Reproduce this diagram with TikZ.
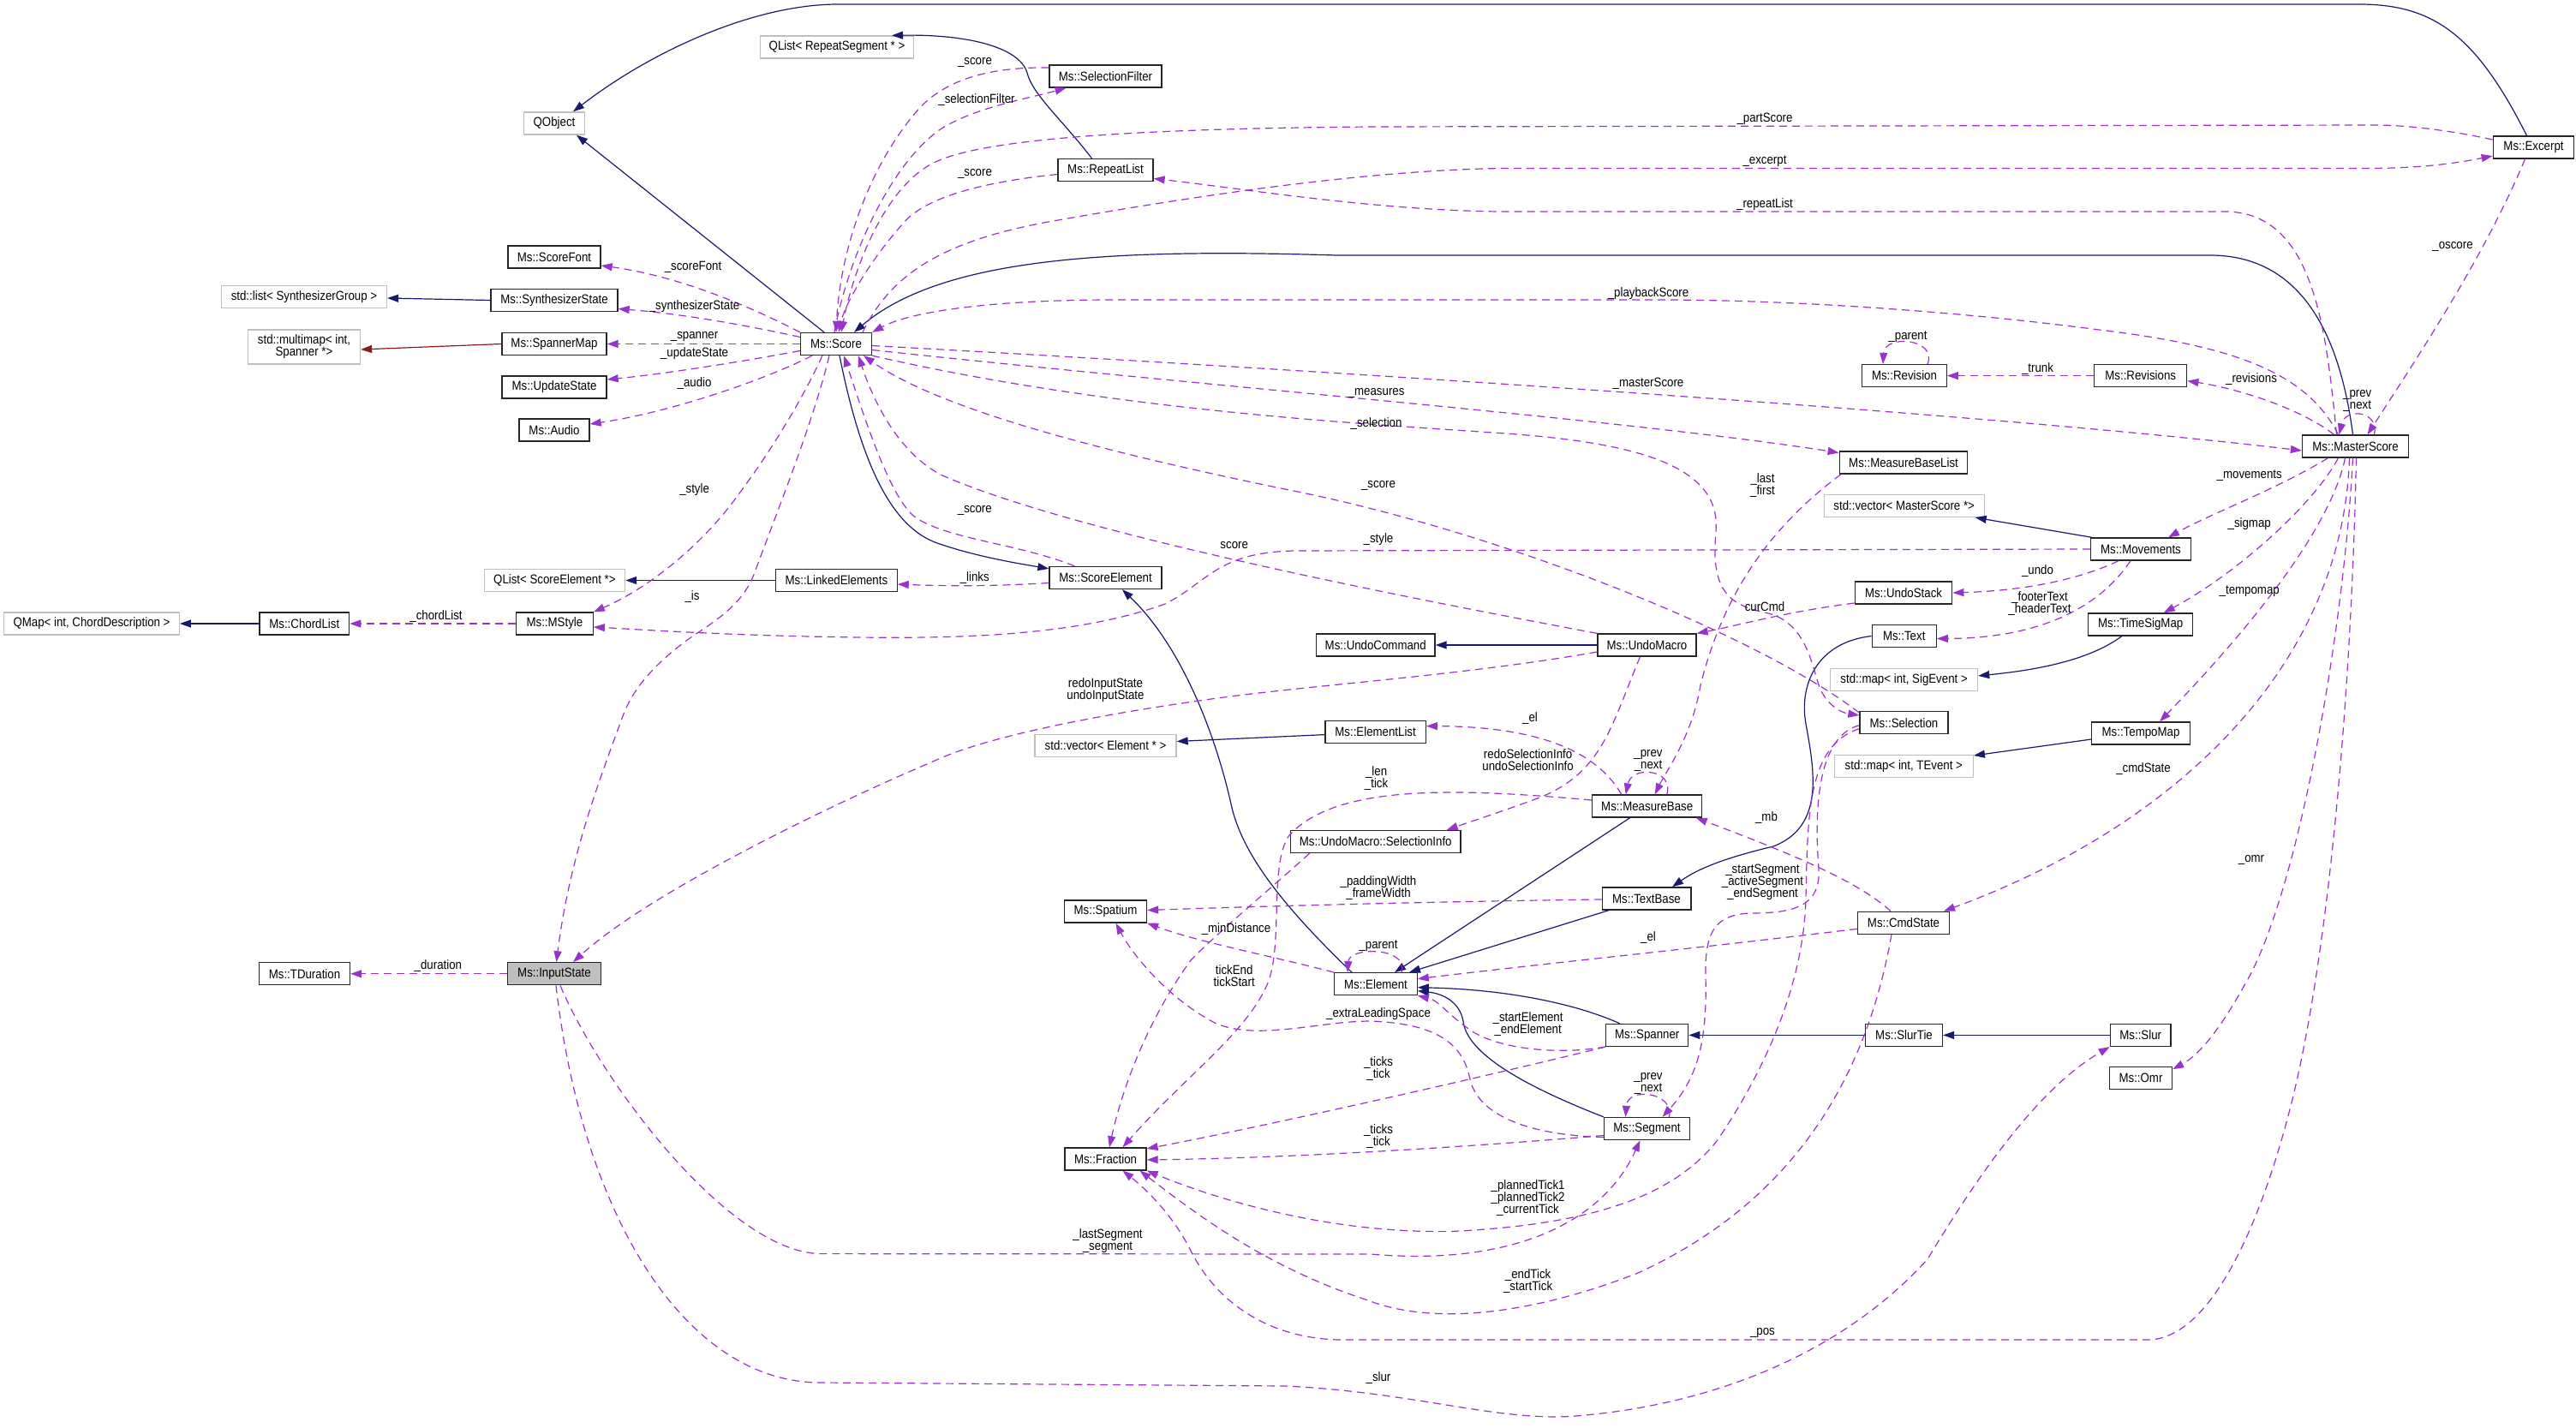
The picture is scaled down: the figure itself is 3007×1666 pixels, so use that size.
\documentclass[tikz,border=0pt]{standalone}
\usepackage{fontspec}
\setmainfont{Liberation Sans}[FakeStretch=0.885]
\usetikzlibrary{arrows.meta}
\definecolor{navy}{HTML}{191970}
\definecolor{orch}{HTML}{9A32CD}
\definecolor{fire}{HTML}{8B1A1A}
\definecolor{extgray}{HTML}{BFBFBF}
\newcommand\dgfont{\fontsize{15}{14}\selectfont}
\begin{document}
\begin{tikzpicture}[x=1pt,y=-1pt,
  cls/.style={draw=black!85, line width=1.3pt, fill=white, minimum height=26pt, inner sep=0pt, font=\dgfont, align=center},
  ext/.style={draw=extgray},
  focus/.style={fill=extgray},
  lab/.style={inner sep=0pt, font=\dgfont, align=center},
  inh/.style={draw=navy, line width=1.2pt, -{Triangle[length=13pt,width=9pt]}},
  tmpl/.style={draw=fire, line width=1.2pt, -{Triangle[length=13pt,width=9pt]}},
  use/.style={draw=orch, line width=1.2pt, dash pattern=on 9pt off 6pt, -{Triangle[length=13pt,width=9pt]}}]
\useasboundingbox[fill=white] (0,0) rectangle (3007,1666);

% ---------- nodes ----------
\node[cls,ext,minimum width=71pt] (qobject) at (647,144) {QObject};
\node[cls,ext,minimum width=179pt] (qlistrs) at (977,55) {QList< RepeatSegment * >};
\node[cls,minimum width=131pt] (selfilter) at (1290.5,89) {Ms::SelectionFilter};
\node[cls,minimum width=111pt] (repeatlist) at (1290.5,198.5) {Ms::RepeatList};
\node[cls,minimum width=108pt] (scorefont) at (647,300) {Ms::ScoreFont};
\node[cls,ext,minimum width=193pt] (stdlist) at (355,346.5) {std::list< SynthesizerGroup >};
\node[cls,minimum width=148pt] (synth) at (647,350.5) {Ms::SynthesizerState};
\node[cls,ext,minimum width=131pt,minimum height=40pt] (multimap) at (355,405) {std::multimap< int,\\Spanner *>};
\node[cls,minimum width=122pt] (spannermap) at (647,401.5) {Ms::SpannerMap};
\node[cls,minimum width=122pt] (updatestate) at (647,452) {Ms::UpdateState};
\node[cls,minimum width=82pt] (audio) at (647,502) {Ms::Audio};
\node[cls,minimum width=83pt] (score) at (976,401.5) {Ms::Score};
\node[cls,minimum width=94.5pt] (excerpt) at (2957.5,172) {Ms::Excerpt};
\node[cls,minimum width=124pt] (master) at (2749.5,521) {Ms::MasterScore};
\node[cls,minimum width=108pt] (revisions) at (2498.7,438.6) {Ms::Revisions};
\node[cls,minimum width=98.5pt] (revision) at (2223,438.6) {Ms::Revision};
\node[cls,minimum width=149.5pt] (mblist) at (2222,540) {Ms::MeasureBaseList};
\node[cls,ext,minimum width=187pt] (vecms) at (2222.7,590.5) {std::vector< MasterScore *>};
\node[cls,minimum width=117pt] (movements) at (2499,641) {Ms::Movements};
\node[cls,minimum width=113.5pt] (undostack) at (2222,692) {Ms::UndoStack};
\node[cls,minimum width=75pt] (text) at (2222.7,742.5) {Ms::Text};
\node[cls,minimum width=122pt] (timesig) at (2498.7,729) {Ms::TimeSigMap};
\node[cls,ext,minimum width=172pt] (mapsig) at (2222.6,793.4) {std::map< int, SigEvent >};
\node[cls,minimum width=103pt] (selection) at (2222.5,843.7) {Ms::Selection};
\node[cls,minimum width=114.4pt] (tempomap) at (2499,856) {Ms::TempoMap};
\node[cls,ext,minimum width=162pt] (mapte) at (2222.3,894.5) {std::map< int, TEvent >};
\node[cls,minimum width=106.7pt] (cmdstate) at (2222,1077.3) {Ms::CmdState};
\node[cls,minimum width=138.6pt] (undocmd) at (1605.7,753) {Ms::UndoCommand};
\node[cls,minimum width=115pt] (undomacro) at (1922.5,753) {Ms::UndoMacro};
\node[cls,minimum width=117.3pt] (elemlist) at (1605.6,854.6) {Ms::ElementList};
\node[cls,ext,minimum width=165pt] (vecel) at (1290.5,870.5) {std::vector< Element * >};
\node[cls,minimum width=128pt] (measurebase) at (1922.7,941) {Ms::MeasureBase};
\node[cls,minimum width=198.7pt] (selinfo) at (1605.7,982.5) {Ms::UndoMacro::SelectionInfo};
\node[cls,minimum width=103.7pt] (textbase) at (1922,1049) {Ms::TextBase};
\node[cls,minimum width=96pt] (spatium) at (1290.5,1064) {Ms::Spatium};
\node[cls,minimum width=96.4pt] (element) at (1606,1148.7) {Ms::Element};
\node[cls,minimum width=96pt] (spanner) at (1922.7,1208.4) {Ms::Spanner};
\node[cls,minimum width=90pt] (slurtie) at (2222.5,1208.4) {Ms::SlurTie};
\node[cls,minimum width=70.8pt] (slur) at (2498.7,1208.4) {Ms::Slur};
\node[cls,minimum width=73pt] (omr) at (2499,1258.2) {Ms::Omr};
\node[cls,minimum width=100pt] (segment) at (1922.5,1317.5) {Ms::Segment};
\node[cls,minimum width=95pt] (fraction) at (1290.5,1352.9) {Ms::Fraction};
\node[cls,focus,minimum width=108.6pt] (inputstate) at (647,1136.8) {Ms::InputState};
\node[cls,minimum width=106pt] (tduration) at (355.5,1136.8) {Ms::TDuration};
\node[cls,minimum width=104.7pt] (chordlist) at (355.3,728) {Ms::ChordList};
\node[cls,ext,minimum width=204.6pt] (qmap) at (107,728) {QMap< int, ChordDescription >};
\node[cls,minimum width=89.7pt] (mstyle) at (647.4,728) {Ms::MStyle};
\node[cls,ext,minimum width=164.3pt] (qlistse) at (647.4,677.5) {QList< ScoreElement *>};
\node[cls,minimum width=141.5pt] (linked) at (976.4,677.5) {Ms::LinkedElements};
\node[cls,minimum width=131pt] (scoreel) at (1290.5,674.5) {Ms::ScoreElement};

% ---------- inheritance ----------
\draw[inh] ([xshift=-14pt]score.north) -- ([xshift=26pt]qobject.south);
\draw[inh] ([xshift=-8pt]excerpt.north) .. controls (2890,40) and (2840,5) .. (2754,5) -- (978,5) .. controls (880,5) and (760,60) .. ([xshift=22pt]qobject.north);
\draw[inh] ([xshift=-16pt]repeatlist.north) .. controls (1240,140) and (1205,110) .. (1199,85) .. controls (1190,55) and (1130,40) .. ([xshift=64pt]qlistrs.north);
\draw[inh] ([xshift=-3pt]master.north) .. controls (2730,380) and (2680,298) .. (2580,298) -- (1560,298) .. controls (1300,290) and (1100,300) .. ([xshift=21pt]score.north);
\draw[inh] (undomacro.west) -- (undocmd.east);
\draw[inh] ([xshift=4pt]score.south) .. controls (1005,540) and (1040,615) .. (1094,634) .. controls (1140,650) and (1190,658) .. ([yshift=-3pt]scoreel.north west);
\draw[inh] (linked.west) -- (qlistse.east);
\draw[inh] (chordlist.west) -- (qmap.east);
\draw[inh] (synth.west) -- ([yshift=-1.5pt]stdlist.east);
\draw[tmpl] (spannermap.west) -- ([yshift=-3pt]multimap.east);
\draw[inh] ([yshift=-3pt]elemlist.west) -- ([yshift=5pt]vecel.east);
\draw[inh] ([xshift=-28pt]element.north) .. controls (1500,1060) and (1452,1000) .. (1438,943) .. controls (1420,860) and (1380,755) .. ([xshift=19.5pt]scoreel.south);
\draw[inh] ([xshift=-20pt]measurebase.south) -- ([xshift=22pt]element.north);
\draw[inh] ([xshift=-44pt]textbase.south) -- ([xshift=39pt]element.north);
\draw[inh] (text.west) .. controls (2120,750) and (2100,800) .. (2108,845) .. controls (2118,900) and (2130,965) .. (2070,988) .. controls (2020,1000) and (1985,1012) .. ([xshift=30pt]textbase.north);
\draw[inh] ([xshift=-32pt]spanner.north) .. controls (1840,1172) and (1760,1155) .. ([yshift=-4pt]element.east);
\draw[inh] (segment.north west) .. controls (1780,1268) and (1712,1230) .. (1708,1192) .. controls (1704,1170) and (1685,1160) .. ([yshift=-8pt]element.east);
\draw[inh] (slurtie.west) -- (spanner.east);
\draw[inh] (slur.west) -- (slurtie.east);
\draw[inh] ([xshift=-57pt]movements.north) -- ([xshift=83pt]vecms.south);
\draw[inh] ([xshift=-22pt]timesig.south) .. controls (2440,770) and (2380,782) .. ([yshift=4.5pt]mapsig.east);
\draw[inh] ([yshift=-7pt]tempomap.west) -- ([yshift=12.5pt]mapte.east);

% ---------- usage ----------
\draw[use] (score.north west) .. controls (870,355) and (790,322) .. ([yshift=-10pt]scorefont.east);
\draw[use] ([yshift=8pt]score.west) .. controls (850,375) and (780,365) .. ([yshift=-10pt]synth.east);
\draw[use] (score.west) -- (spannermap.east);
\draw[use] ([yshift=-8pt]score.west) .. controls (850,425) and (770,437) .. ([yshift=9pt]updatestate.east);
\draw[use] ([xshift=-28pt]score.south) .. controls (900,440) and (790,480) .. ([yshift=7pt]audio.east);
\draw[use] ([xshift=-16pt]score.south) .. controls (930,480) and (890,540) .. (860,580) .. controls (820,635) and (760,685) .. (mstyle.north east);
\draw[use] ([xshift=-8pt]score.south) .. controls (950,490) and (910,590) .. (881,668) .. controls (868,705) and (835,725) .. (808,743) .. controls (770,770) and (740,800) .. (727,836) .. controls (700,910) and (665,1000) .. ([xshift=2.5pt]inputstate.north);
\draw[use] ([yshift=-8pt]undomacro.west) .. controls (1700,790) and (1520,800) .. (1400,818) .. controls (1280,835) and (1150,860) .. (1089,889) .. controls (980,935) and (760,1040) .. ([xshift=22pt]inputstate.north);
\draw[use] ([yshift=-6pt]scoreel.west) .. controls (1150,685) and (1100,684) .. ([yshift=-4.5pt]linked.east);
\draw[use] ([xshift=-36pt]scoreel.north) .. controls (1190,635) and (1110,630) .. (1070,605) .. controls (1040,585) and (1010,490) .. ([xshift=9pt]score.south);
\draw[use] (undomacro.north west) .. controls (1600,690) and (1250,620) .. (1100,555) .. controls (1050,530) and (1020,470) .. ([xshift=26pt]score.south);
\draw[use] ([yshift=-2pt]selection.north west) .. controls (2050,740) and (1750,620) .. (1500,571) .. controls (1300,530) and (1100,480) .. ([xshift=32pt]score.south);
\draw[use] (score.south east) .. controls (1300,480) and (1600,495) .. (1742,505) .. controls (1900,515) and (2010,540) .. (2003,620) .. controls (1998,680) and (2010,705) .. (2060,715) .. controls (2110,725) and (2115,780) .. (2125,805) .. controls (2135,825) and (2150,832) .. ([yshift=-5pt]selection.north west);
\draw[use] ([yshift=-2pt]score.east) .. controls (1500,430) and (2300,480) .. ([yshift=-5pt]master.west);
\draw[use] ([yshift=-7pt]score.east) .. controls (1400,450) and (1900,490) .. ([yshift=11.5pt]mblist.west);
\draw[use] ([xshift=-20pt]master.north) .. controls (2695,440) and (2620,405) .. (2450,385) .. controls (2300,365) and (2100,350) .. (1936,350) -- (1300,350) .. controls (1150,350) and (1060,365) .. (score.north east);
\draw[use] ([xshift=-22pt]master.north) .. controls (2715,380) and (2700,250) .. (2600,247) -- (1750,247) .. controls (1600,245) and (1450,220) .. ([yshift=-10pt]repeatlist.east);
\draw[use] ([yshift=9pt]excerpt.west) .. controls (2850,150) and (2800,146) .. (2773,146) -- (1600,148) .. controls (1350,150) and (1150,160) .. (1090,190) .. controls (1030,220) and (995,320) .. ([xshift=6pt]score.north);
\draw[use] ([xshift=31pt]score.north) .. controls (1040,320) and (1100,280) .. (1235,257) .. controls (1400,228) and (1600,198) .. (1760,196.4) -- (2773,196.4) .. controls (2830,196) and (2870,190) .. ([yshift=-10pt]excerpt.west);
\draw[use] ([yshift=-5pt]repeatlist.west) .. controls (1150,212) and (1080,230) .. (1055,260) .. controls (1010,310) and (985,360) .. ([xshift=3pt]score.north);
\draw[use] ([yshift=10pt]selfilter.west) .. controls (1150,78) and (1100,95) .. (1070,130) .. controls (1010,200) and (980,300) .. (score.north);
\draw[use] ([xshift=-2pt]score.north) .. controls (990,300) and (1040,190) .. (1099,150) .. controls (1140,125) and (1200,115) .. ([xshift=-46pt]selfilter.south);
\draw[use] ([xshift=-10pt]excerpt.south) .. controls (2900,300) and (2820,420) .. ([xshift=14pt]master.north);
\draw[use] ([xshift=-25pt]master.north) .. controls (2690,480) and (2620,455) .. ([yshift=-6pt]revisions.east);
\draw[use] ([xshift=22pt]master.north) .. controls (2778,480) and (2738,475) .. ([xshift=-19pt]master.north);
\draw[use] ([xshift=-32pt]master.south) .. controls (2660,570) and (2580,600) .. ([xshift=32pt]movements.north);
\draw[use] ([xshift=-20pt]master.south) .. controls (2700,590) and (2610,670) .. ([xshift=27pt]timesig.north);
\draw[use] ([xshift=-12pt]master.south) .. controls (2720,620) and (2620,740) .. ([xshift=22pt]tempomap.north);
\draw[use] ([xshift=-7pt]master.south) .. controls (2735,770) and (2550,960) .. ([xshift=47pt]cmdstate.north);
\draw[use] ([xshift=-3pt]master.south) .. controls (2735,750) and (2680,1050) .. (2620,1150) .. controls (2595,1195) and (2570,1230) .. ([yshift=10pt]omr.east);
\draw[use] ([xshift=1pt]master.south) .. controls (2745,800) and (2720,1100) .. (2677,1279) .. controls (2640,1430) and (2580,1564) .. (2507,1564) -- (1563,1564) .. controls (1480,1562) and (1420,1520) .. (1390,1460) .. controls (1370,1420) and (1340,1390) .. ([xshift=20pt]fraction.south);
\draw[use] ([xshift=2pt]inputstate.south) .. controls (680,1420) and (800,1614) .. (958,1614) -- (1500,1618) .. controls (1650,1625) and (1750,1660) .. (1839,1653) .. controls (2000,1640) and (2150,1580) .. (2250,1470) .. controls (2310,1370) and (2380,1270) .. (slur.south west);
\draw[use] ([xshift=7pt]inputstate.south) .. controls (700,1260) and (850,1462) .. (958,1463.6) -- (1600,1464) .. controls (1760,1478) and (1870,1430) .. ([xshift=-8pt]segment.south);
\draw[use] (mstyle.west) -- (chordlist.east);
\draw[use] (inputstate.west) -- (tduration.east);
\draw[use] ([xshift=-73pt]mblist.south) .. controls (2060,620) and (2010,700) .. (1985,800) .. controls (1975,860) and (1945,900) .. ([xshift=9pt]measurebase.north);
\draw[use] ([xshift=23pt]measurebase.north) .. controls (1955,898) and (1905,893) .. ([xshift=-25pt]measurebase.north);
\draw[use] ([xshift=-30pt]measurebase.north) .. controls (1860,870) and (1780,848) .. ([yshift=7pt]elemlist.east);
\draw[use] ([xshift=-8pt]undomacro.south) .. controls (1880,850) and (1870,900) .. (1800,930) .. controls (1760,945) and (1720,958) .. ([xshift=83pt]selinfo.north);
\draw[use] ([yshift=-12pt]undostack.west) .. controls (2080,715) and (2030,730) .. (undomacro.north east);
\draw[use] ([xshift=-26pt]movements.south) .. controls (2420,680) and (2350,690) .. (undostack.east);
\draw[use] ([xshift=-12pt]movements.south) .. controls (2450,710) and (2380,745) .. ([yshift=-3pt]text.east);
\draw[use] (movements.west) -- (1510,643) .. controls (1420,645) and (1410,680) .. (1360,705) .. controls (1250,745) and (1100,745) .. (1000,744) .. controls (850,742) and (750,735) .. ([yshift=-4pt]mstyle.east);
\draw[use] (revisions.west) -- (revision.east);
\draw[use] ([xshift=27pt]revision.north) .. controls (2262,395) and (2200,390) .. ([xshift=-25pt]revision.north);
\draw[use] ([xshift=30pt]element.north) .. controls (1645,1105) and (1575,1105) .. ([xshift=-33pt]element.north);
\draw[use] ([yshift=-7pt]cmdstate.west) .. controls (2000,1105) and (1800,1125) .. ([yshift=6pt]element.east);
\draw[use] (spanner.south west) .. controls (1830,1230) and (1760,1228) .. (1720,1205) .. controls (1690,1185) and (1680,1168) .. (element.south east);
\draw[use] ([xshift=-15pt]cmdstate.north) .. controls (2170,1030) and (2100,1000) .. ([xshift=57pt]measurebase.south);
\draw[use] ([yshift=-3pt]selection.west) .. controls (2120,860) and (2118,950) .. (2123,1014) .. controls (2126,1060) and (2090,1066) .. (2043,1066) .. controls (2000,1068) and (1990,1090) .. (1991,1140) .. controls (1993,1220) and (1980,1260) .. ([xshift=18pt]segment.north);
\draw[use] ([yshift=-7pt]selection.west) .. controls (2110,870) and (2110,950) .. (2108,1050) .. controls (2105,1150) and (2060,1250) .. (2004,1332) .. controls (1950,1400) and (1850,1430) .. (1694,1437.5) .. controls (1550,1440) and (1420,1400) .. (fraction.south east);
\draw[use] ([xshift=-14pt]cmdstate.south) .. controls (2180,1250) and (2100,1400) .. (1912,1486) .. controls (1800,1530) and (1680,1550) .. (1597,1518) .. controls (1480,1480) and (1400,1420) .. ([xshift=40pt]fraction.south);
\draw[use] ([yshift=-10pt]segment.west) .. controls (1780,1325) and (1725,1300) .. (1716,1260) .. controls (1708,1220) and (1680,1195) .. (1600,1192) .. controls (1540,1192) and (1470,1215) .. (1420,1195) .. controls (1370,1170) and (1325,1120) .. ([xshift=12pt]spatium.south);
\draw[use] (spanner.south west) .. controls (1700,1265) and (1450,1320) .. ([yshift=12pt]fraction.east);
\draw[use] ([yshift=-8pt]segment.west) .. controls (1700,1340) and (1500,1352) .. ([yshift=-1pt]fraction.east);
\draw[use] ([xshift=-77pt]selinfo.south) .. controls (1480,1040) and (1420,1090) .. (1390,1121) .. controls (1340,1190) and (1310,1270) .. ([xshift=4.5pt]fraction.north);
\draw[use] ([yshift=7pt]measurebase.west) .. controls (1700,920) and (1560,915) .. (1505,975) .. controls (1480,1010) and (1500,1110) .. (1477,1154) .. controls (1450,1210) and (1380,1260) .. ([xshift=20pt]fraction.north);
\draw[use] ([yshift=-1pt]textbase.west) .. controls (1700,1052) and (1500,1057) .. ([yshift=1.5pt]spatium.east);
\draw[use] (element.north west) .. controls (1480,1115) and (1400,1100) .. (spatium.south east);
\draw[use] ([xshift=26pt]segment.north) .. controls (1955,1275) and (1900,1268) .. ([xshift=-25pt]segment.north);

% ---------- labels ----------
\node[lab] (l1) at (809,312) {\_scoreFont};
\node[lab] (l2) at (810.6,358) {\_synthesizerState};
\node[lab] (l3) at (810.6,393) {\_spanner};
\node[lab] (l4) at (810.6,412.5) {\_updateState};
\node[lab] (l5) at (810.6,448) {\_audio};
\node[lab] (l6) at (1138,73) {\_score};
\node[lab] (l7) at (1140,117) {\_selectionFilter};
\node[lab] (l8) at (1138,203) {\_score};
\node[lab] (l9) at (2060,138.6) {\_partScore};
\node[lab] (l10) at (2060,188.6) {\_excerpt};
\node[lab] (l11) at (2060,239) {\_repeatList};
\node[lab] (l12) at (1924,343) {\_playbackScore};
\node[lab] (l13) at (1924,448) {\_masterScore};
\node[lab] (l14) at (1606.6,459) {\_measures};
\node[lab] (l15) at (1606.6,494.6) {\_selection};
\node[lab] (l16) at (2863,287.5) {\_oscore};
\node[lab] (l17) at (2628,443) {\_revisions};
\node[lab] (l18) at (2751.7,468) {\_prev\\\_next};
\node[lab] (l19) at (2227,393) {\_parent};
\node[lab] (l20) at (2378.5,430.4) {\_trunk};
\node[lab] (l21) at (2625.7,555.4) {\_movements};
\node[lab] (l22) at (2625.7,611.8) {\_sigmap};
\node[lab] (l23) at (2625.7,690.4) {\_tempomap};
\node[lab] (l24) at (2502,898) {\_cmdState};
\node[lab] (l25) at (2628,1003.6) {\_omr};
\node[lab] (l26) at (2057.4,1556) {\_pos};
\node[lab] (l27) at (1609,1609) {\_slur};
\node[lab] (l28) at (1293,1448.5) {\_lastSegment\\\_segment};
\node[lab] (l29) at (2378.5,666.8) {\_undo};
\node[lab] (l30) at (2381,705) {\_footerText\\\_headerText};
\node[lab] (l31) at (2060,708) {curCmd};
\node[lab] (l32) at (2057.5,567) {\_last\\\_first};
\node[lab] (l33) at (1609,630) {\_style};
\node[lab] (l34) at (1609,566.8) {\_score};
\node[lab] (l35) at (1440.7,636.8) {score};
\node[lab] (l36) at (1137.8,595.7) {\_score};
\node[lab] (l37) at (1137.8,674.3) {\_links};
\node[lab] (l38) at (810.6,571.4) {\_style};
\node[lab] (l39) at (808,696.4) {\_is};
\node[lab] (l40) at (509,719.6) {\_chordList};
\node[lab] (l41) at (511.4,1128) {\_duration};
\node[lab] (l42) at (1290.5,806) {redoInputState\\undoInputState};
\node[lab] (l43) at (1786,838.6) {\_el};
\node[lab] (l44) at (1783.6,887) {redoSelectionInfo\\undoSelectionInfo};
\node[lab] (l45) at (1924,888) {\_prev\\\_next};
\node[lab] (l46) at (1606.6,909) {\_len\\\_tick};
\node[lab] (l47) at (2062,955) {\_mb};
\node[lab] (l48) at (1609,1037) {\_paddingWidth\\\_frameWidth};
\node[lab] (l49) at (2057.5,1030) {\_startSegment\\\_activeSegment\\\_endSegment};
\node[lab] (l50) at (1440.7,1139) {tickEnd\\tickStart};
\node[lab] (l51) at (1443,1084.6) {\_minDistance};
\node[lab] (l52) at (1609,1104) {\_parent};
\node[lab] (l53) at (1924,1095) {\_el};
\node[lab] (l54) at (1609,1184) {\_extraLeadingSpace};
\node[lab] (l55) at (1783.6,1196) {\_startElement\\\_endElement};
\node[lab] (l56) at (1609,1248) {\_ticks\\\_tick};
\node[lab] (l57) at (1609,1327) {\_ticks\\\_tick};
\node[lab] (l58) at (1924,1265) {\_prev\\\_next};
\node[lab] (l59) at (1783.6,1399) {\_plannedTick1\\\_plannedTick2\\\_currentTick};
\node[lab] (l60) at (1783.6,1495.5) {\_endTick\\\_startTick};
\end{tikzpicture}
\end{document}
